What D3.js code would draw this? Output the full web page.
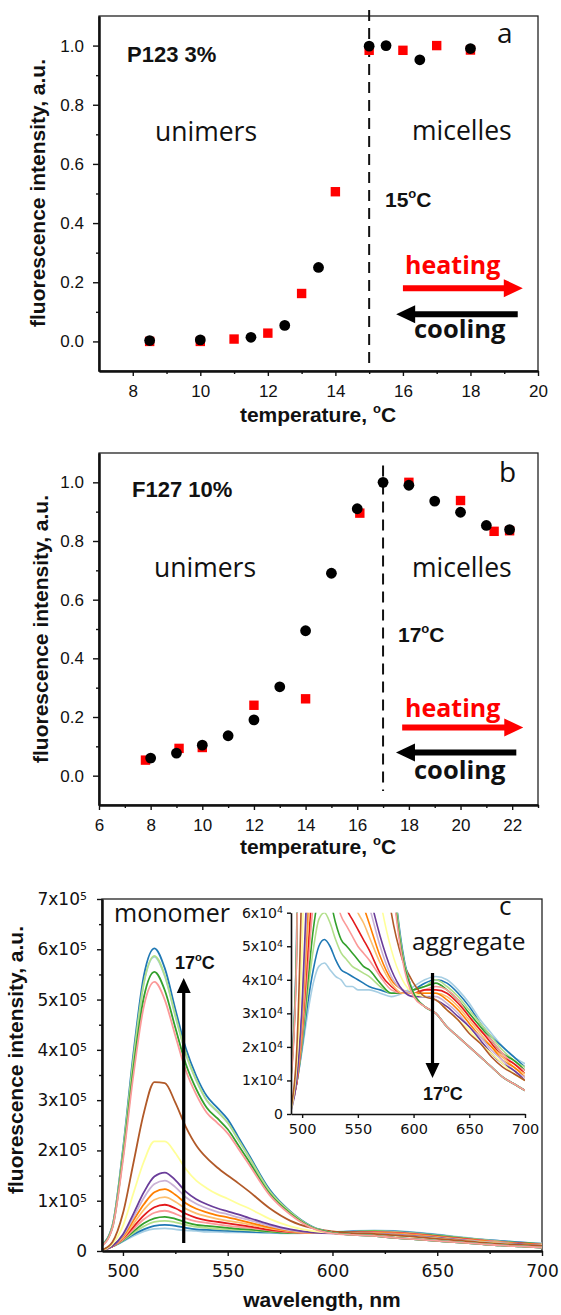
<!DOCTYPE html>
<html>
<head>
<meta charset="utf-8">
<script src="https://cdn.jsdelivr.net/npm/d3@7"></script>
<style>
  body { margin: 0; background: #fff; }
</style>
</head>
<body>
<svg id="fig" width="561" height="1315"></svg>
<script>
// ---- panel a : P123 3% ----
const tempCoolingA = [8.5, 10, 11.5, 12.5, 13.5, 15, 15.5, 16.5, 18]
const intCoolingA = [0.003, 0.005, 0.014, 0.054, 0.25, 0.998, 1.0, 0.952, 0.99]
const tempHeatingA = [8.5, 10, 11, 12, 13, 14, 15, 16, 17, 18]
const intHeatingA = [0.0, 0.0, 0.008, 0.028, 0.162, 0.506, 0.984, 0.984, 1.0, 0.985]

// ---- panel b : F127 10% ----
const tempCoolingB = [8, 9, 10, 11, 12, 13, 14, 15, 16, 17, 18, 19, 20, 21, 21.9]
const intCoolingB = [0.06, 0.077, 0.104, 0.136, 0.19, 0.303, 0.494, 0.69, 0.91, 1.0, 0.99, 0.936, 0.898, 0.853, 0.839]
const tempHeatingB = [7.8, 9.1, 10, 12, 14, 16.1, 18, 20, 21.3, 21.9]
const intHeatingB = [0.053, 0.093, 0.096, 0.24, 0.262, 0.895, 1.0, 0.938, 0.833, 0.835]

// ---- panel c : emission spectra (intensity in units of 1e4) ----
const wavelengths = [490, 495, 500, 505, 510, 515, 520, 525, 530, 535, 540, 545, 550, 555, 560,
  570, 580, 590, 600, 610, 620, 630, 640, 650, 660, 670, 680, 690, 700]
const spectra = [
  [0.3, 0.9, 1.9, 3.0, 3.9, 4.4, 4.5, 4.3, 4.1, 4.0, 3.8, 3.8, 3.7, 3.7, 3.7, 3.6, 3.5, 3.6, 3.8, 4.0, 4.1, 4.0, 3.7, 3.3, 2.8, 2.4, 2.0, 1.7, 1.5],
  [0.3, 0.9, 2.0, 3.3, 4.3, 5.0, 5.2, 5.0, 4.6, 4.3, 4.2, 4.1, 4.0, 3.9, 3.8, 3.7, 3.6, 3.6, 3.7, 3.9, 4.0, 3.9, 3.6, 3.2, 2.7, 2.3, 2.0, 1.7, 1.4],
  [0.3, 0.9, 2.1, 3.6, 4.9, 5.8, 6.0, 5.7, 5.2, 4.8, 4.6, 4.4, 4.3, 4.2, 4.1, 3.8, 3.6, 3.6, 3.7, 3.8, 4.0, 3.8, 3.5, 3.1, 2.7, 2.3, 1.9, 1.6, 1.4],
  [0.3, 0.9, 2.2, 3.9, 5.5, 6.5, 6.8, 6.4, 5.7, 5.2, 5.0, 4.8, 4.6, 4.4, 4.3, 3.9, 3.6, 3.6, 3.7, 3.8, 3.9, 3.7, 3.4, 3.0, 2.6, 2.2, 1.8, 1.6, 1.3],
  [0.2, 0.9, 2.3, 4.3, 6.3, 7.6, 8.0, 7.4, 6.5, 5.9, 5.6, 5.3, 5.0, 4.8, 4.6, 4.1, 3.7, 3.6, 3.6, 3.7, 3.8, 3.7, 3.4, 2.9, 2.5, 2.2, 1.8, 1.5, 1.3],
  [0.2, 0.9, 2.5, 4.8, 7.1, 8.7, 9.2, 8.5, 7.4, 6.6, 6.1, 5.8, 5.5, 5.2, 4.9, 4.2, 3.8, 3.6, 3.6, 3.7, 3.7, 3.6, 3.3, 2.9, 2.5, 2.1, 1.7, 1.5, 1.2],
  [0.2, 1.0, 2.6, 5.4, 8.2, 10.2, 10.7, 9.8, 8.4, 7.5, 6.9, 6.4, 6.0, 5.7, 5.3, 4.5, 3.9, 3.6, 3.6, 3.6, 3.6, 3.5, 3.2, 2.8, 2.4, 2.0, 1.7, 1.4, 1.2],
  [0.2, 1.0, 2.9, 6.1, 9.3, 11.7, 12.3, 11.2, 9.5, 8.4, 7.7, 7.1, 6.7, 6.2, 5.7, 4.7, 4.0, 3.7, 3.6, 3.6, 3.6, 3.4, 3.1, 2.7, 2.3, 2.0, 1.6, 1.4, 1.1],
  [0.2, 1.0, 3.1, 6.7, 10.6, 13.3, 14.0, 12.7, 10.7, 9.4, 8.5, 7.8, 7.3, 6.7, 6.2, 5.0, 4.1, 3.7, 3.6, 3.5, 3.5, 3.3, 3.0, 2.6, 2.3, 1.9, 1.6, 1.3, 1.1],
  [0.1, 1.0, 3.3, 7.4, 11.7, 14.8, 15.6, 14.1, 11.8, 10.3, 9.3, 8.5, 7.9, 7.3, 6.6, 5.3, 4.3, 3.7, 3.5, 3.5, 3.4, 3.2, 2.9, 2.6, 2.2, 1.8, 1.5, 1.3, 1.0],
  [0.1, 1.4, 5.0, 11.5, 17.8, 21.8, 21.8, 19.5, 16.3, 14.0, 12.5, 11.3, 10.4, 9.4, 8.5, 6.4, 4.9, 4.0, 3.6, 3.5, 3.4, 3.1, 2.8, 2.5, 2.1, 1.8, 1.5, 1.2, 1.0],
  [0.2, 1.8, 7.5, 17.5, 27.5, 33.6, 33.4, 29.5, 24.7, 21.0, 18.5, 16.6, 15.0, 13.5, 11.9, 8.5, 6.0, 4.6, 3.9, 3.5, 3.4, 3.1, 2.8, 2.4, 2.1, 1.7, 1.4, 1.2, 1.0],
  [1.1, 5.0, 19.7, 38.2, 53.3, 58.5, 54.6, 46.7, 39.2, 33.9, 29.9, 27.7, 25.5, 22.1, 18.7, 11.9, 7.7, 4.8, 3.6, 3.2, 3.0, 2.6, 2.3, 2.0, 1.7, 1.4, 1.1, 0.9, 0.7],
  [1.2, 5.1, 20.2, 39.3, 54.8, 60.2, 56.2, 48.1, 40.3, 34.8, 30.8, 28.5, 26.2, 22.7, 19.2, 12.2, 7.8, 4.9, 3.6, 3.2, 3.0, 2.6, 2.3, 2.0, 1.7, 1.4, 1.1, 0.9, 0.7],
  [1.1, 5.0, 19.7, 38.3, 53.4, 58.7, 54.8, 46.9, 39.3, 34.0, 30.0, 27.8, 25.5, 22.2, 18.8, 11.9, 7.7, 4.8, 3.6, 3.2, 3.0, 2.6, 2.3, 2.0, 1.7, 1.4, 1.1, 0.9, 0.7],
  [1.1, 4.7, 18.7, 36.3, 50.5, 55.5, 51.8, 44.4, 37.2, 32.2, 28.5, 26.4, 24.2, 21.1, 17.9, 11.4, 7.4, 4.7, 3.6, 3.2, 3.0, 2.6, 2.3, 2.0, 1.7, 1.4, 1.1, 0.9, 0.7],
  [1.0, 4.6, 18.0, 35.0, 48.7, 53.5, 49.9, 42.8, 35.9, 31.1, 27.5, 25.5, 23.4, 20.4, 17.3, 11.1, 7.2, 4.6, 3.5, 3.2, 3.0, 2.6, 2.3, 2.0, 1.7, 1.4, 1.1, 0.9, 0.7]
]

const svg = d3.select('#fig')
svg.append('rect').attr('width', 561).attr('height', 1315).attr('fill', '#fff')

const arial = '"Liberation Sans", Arial, sans-serif'
const calibri = '"Open Sans", sans-serif'
const wideSans = '"DejaVu Sans", sans-serif'
const ink = '#111'

// text with optional superscript parts, e.g. ['15', {sup: 'o'}, 'C']
function label(g, o) {
  const t = g.append('text')
    .attr('x', o.x).attr('y', o.y)
    .attr('font-family', o.family || arial)
    .attr('font-size', o.size)
    .attr('font-weight', o.weight || 'normal')
    .attr('fill', o.fill || ink)
    .attr('text-anchor', o.anchor || 'start')
  if (o.rotate) t.attr('transform', `rotate(${o.rotate},${o.x},${o.y})`)
  const parts = Array.isArray(o.text) ? o.text : [o.text]
  let raised = false
  parts.forEach((p) => {
    if (typeof p === 'string') {
      t.append('tspan').attr('dy', raised ? o.size * 0.42 : 0).text(p)
      raised = false
    } else {
      t.append('tspan').attr('dy', -o.size * 0.42).attr('font-size', o.size * 0.62).text(p.sup)
      raised = true
    }
  })
  return t
}

function styleAxis(a, family, size, lineWidth) {
  a.attr('font-family', family).attr('font-size', size).attr('fill', ink)
  a.select('.domain').attr('stroke', ink).attr('stroke-width', lineWidth)
  a.selectAll('.tick line').attr('stroke', ink).attr('stroke-width', 1.4)
  a.selectAll('.tick text').attr('fill', ink)
}

function hArrow(g, x1, x2, y, color) {
  const dir = Math.sign(x2 - x1), s = 3, hw = 9, hl = 19
  const pts = [[x1, y - s], [x2 - dir * hl, y - s], [x2 - dir * hl, y - hw], [x2, y],
    [x2 - dir * hl, y + hw], [x2 - dir * hl, y + s], [x1, y + s]]
  g.append('path').attr('d', 'M' + pts.join('L') + 'Z').attr('fill', color)
}

function vArrow(g, x, y1, y2) {
  const dir = Math.sign(y2 - y1), s = 1.6, hw = 7, hl = 15
  const pts = [[x - s, y1], [x - s, y2 - dir * hl], [x - hw, y2 - dir * hl], [x, y2],
    [x + hw, y2 - dir * hl], [x + s, y2 - dir * hl], [x + s, y1]]
  g.append('path').attr('d', 'M' + pts.join('L') + 'Z').attr('fill', '#000')
}

// ---------- temperature scatter panels ----------
function scatterPanel(p) {
  const g = svg.append('g')
  const x = d3.scaleLinear().domain(p.xDomain).range([p.left, p.right])
  const y = d3.scaleLinear().domain([-0.1, 1.1]).range([p.bottom, p.top])

  g.append('rect')
    .attr('x', p.left).attr('y', p.top)
    .attr('width', p.right - p.left).attr('height', p.bottom - p.top)
    .attr('fill', 'none').attr('stroke', '#222').attr('stroke-width', 1.3)

  const xa = g.append('g').attr('transform', `translate(0,${p.bottom})`)
    .call(d3.axisBottom(x).tickValues(p.xMajor).tickSize(5).tickSizeOuter(0).tickPadding(9).tickFormat(d3.format('d')))
  styleAxis(xa, arial, 17, 2)
  const xm = g.append('g').attr('transform', `translate(0,${p.bottom})`)
    .call(d3.axisBottom(x).tickValues(p.xMinor).tickSize(3).tickSizeOuter(0).tickFormat(''))
  styleAxis(xm, arial, 17, 2)

  const ya = g.append('g').attr('transform', `translate(${p.left},0)`)
    .call(d3.axisLeft(y).tickValues([0, 0.2, 0.4, 0.6, 0.8, 1.0]).tickSize(6).tickSizeOuter(0).tickPadding(9).tickFormat(d3.format('.1f')))
  styleAxis(ya, arial, 17, 2)
  const ym = g.append('g').attr('transform', `translate(${p.left},0)`)
    .call(d3.axisLeft(y).tickValues([0.1, 0.3, 0.5, 0.7, 0.9]).tickSize(3).tickSizeOuter(0).tickFormat(''))
  styleAxis(ym, arial, 17, 2)

  // transition temperature
  g.append('line')
    .attr('x1', x(p.transition.temp)).attr('x2', x(p.transition.temp))
    .attr('y1', y(p.transition.to)).attr('y2', y(p.transition.from))
    .attr('stroke', '#111').attr('stroke-width', 2).attr('stroke-dasharray', '11,7')

  // heating = red squares, cooling = black circles
  g.append('g').selectAll('rect').data(d3.zip(p.heatT, p.heatI)).join('rect')
    .attr('x', (d) => x(d[0]) - 4.7).attr('y', (d) => y(d[1]) - 4.7)
    .attr('width', 9.4).attr('height', 9.4).attr('fill', '#ff0000')
  g.append('g').selectAll('circle').data(d3.zip(p.coolT, p.coolI)).join('circle')
    .attr('cx', (d) => x(d[0])).attr('cy', (d) => y(d[1])).attr('r', 5.4).attr('fill', '#000')

  hArrow(g, x(p.heatArrow[0]), x(p.heatArrow[1]), y(p.heatArrow[2]), '#ff0000')
  hArrow(g, x(p.coolArrow[0]), x(p.coolArrow[1]), y(p.coolArrow[2]), '#000')

  p.labels.forEach((l) => label(g, l))
}

scatterPanel({
  left: 99, right: 538, top: 16, bottom: 371,
  xDomain: [7, 20], xMajor: d3.range(8, 21, 2), xMinor: d3.range(9, 20, 2),
  coolT: tempCoolingA, coolI: intCoolingA, heatT: tempHeatingA, heatI: intHeatingA,
  transition: { temp: 15, from: -0.078, to: 1.12 },
  heatArrow: [16.0, 19.55, 0.18], coolArrow: [19.4, 15.8, 0.092],
  labels: [
    { x: 127, y: 62, text: 'P123 3%', size: 22, weight: 'bold' },
    { x: 155, y: 141, text: 'unimers', size: 26.5, family: calibri },
    { x: 412, y: 140, text: 'micelles', size: 26.5, family: calibri },
    { x: 385, y: 207, text: ['15', { sup: 'o' }, 'C'], size: 21, weight: 'bold' },
    { x: 497, y: 43, text: 'a', size: 28, family: calibri },
    { x: 405, y: 274, text: 'heating', size: 25, weight: 'bold', family: calibri, fill: '#ff0000' },
    { x: 414, y: 338, text: 'cooling', size: 25.5, weight: 'bold', family: calibri },
    { x: 318, y: 422, text: ['temperature, ', { sup: 'o' }, 'C'], size: 21, weight: 'bold', anchor: 'middle' },
    { x: 45, y: 193, text: 'fluorescence intensity, a.u.', size: 21, weight: 'bold', anchor: 'middle', rotate: -90 }
  ]
})

scatterPanel({
  left: 99, right: 538, top: 453, bottom: 805,
  xDomain: [6, 23], xMajor: d3.range(6, 23, 2), xMinor: d3.range(7, 24, 2),
  coolT: tempCoolingB, coolI: intCoolingB, heatT: tempHeatingB, heatI: intHeatingB,
  transition: { temp: 17, from: -0.052, to: 1.057 },
  heatArrow: [17.74, 22.43, 0.164], coolArrow: [22.16, 17.5, 0.079],
  labels: [
    { x: 132, y: 497, text: 'F127 10%', size: 22, weight: 'bold' },
    { x: 154, y: 577, text: 'unimers', size: 26.5, family: calibri },
    { x: 412, y: 577, text: 'micelles', size: 26.5, family: calibri },
    { x: 398, y: 642, text: ['17', { sup: 'o' }, 'C'], size: 21, weight: 'bold' },
    { x: 499, y: 482, text: 'b', size: 28, family: calibri },
    { x: 405, y: 717, text: 'heating', size: 25, weight: 'bold', family: calibri, fill: '#ff0000' },
    { x: 414, y: 779, text: 'cooling', size: 25.5, weight: 'bold', family: calibri },
    { x: 318, y: 854, text: ['temperature, ', { sup: 'o' }, 'C'], size: 21, weight: 'bold', anchor: 'middle' },
    { x: 48, y: 629, text: 'fluorescence intensity, a.u.', size: 21, weight: 'bold', anchor: 'middle', rotate: -90 }
  ]
})

// ---------- spectra panel ----------
function sciTicks(a, exp, supSize) {
  a.selectAll('.tick text').each(function (d) {
    const t = d3.select(this).text('')
    if (d === 0) { t.text('0'); return }
    t.append('tspan').text(`${d / (exp === 5 ? 10 : 1)}x10`)
    t.append('tspan').attr('dy', '-0.45em').attr('font-size', supSize).text(exp)
  })
}

const colorOf = (i) => d3.schemePaired[i % 12]
const gc = svg.append('g')
const C = { left: 102, right: 542, top: 899, bottom: 1251 }
const xc = d3.scaleLinear().domain([490, 700]).range([C.left, C.right])
const yc = d3.scaleLinear().domain([0, 70]).range([C.bottom, C.top])

const defs = svg.append('defs')
defs.append('clipPath').attr('id', 'clipMain').append('rect')
  .attr('x', C.left).attr('y', C.top).attr('width', C.right - C.left).attr('height', C.bottom - C.top)

gc.append('rect')
  .attr('x', C.left).attr('y', C.top).attr('width', C.right - C.left).attr('height', C.bottom - C.top)
  .attr('fill', 'none').attr('stroke', '#222').attr('stroke-width', 1.3)

const lineMain = d3.line().x((d, i) => xc(wavelengths[i])).y((d) => yc(d)).curve(d3.curveMonotoneX)
gc.append('g').attr('clip-path', 'url(#clipMain)')
  .selectAll('path').data(spectra).join('path')
  .attr('d', lineMain).attr('fill', 'none')
  .attr('stroke', (d, i) => colorOf(i)).attr('stroke-width', 1.8)

const xca = gc.append('g').attr('transform', `translate(0,${C.bottom})`)
  .call(d3.axisBottom(xc).tickValues([500, 550, 600, 650, 700]).tickSize(5).tickSizeOuter(0).tickPadding(9))
styleAxis(xca, wideSans, 17, 2)
const xcm = gc.append('g').attr('transform', `translate(0,${C.bottom})`)
  .call(d3.axisBottom(xc).tickValues([525, 575, 625, 675]).tickSize(3).tickSizeOuter(0).tickFormat(''))
styleAxis(xcm, wideSans, 17, 2)
const yca = gc.append('g').attr('transform', `translate(${C.left},0)`)
  .call(d3.axisLeft(yc).tickValues(d3.range(0, 71, 10)).tickSize(5).tickSizeOuter(0).tickPadding(10))
styleAxis(yca, wideSans, 17, 2)
sciTicks(yca, 5, 11)
const ycm = gc.append('g').attr('transform', `translate(${C.left},0)`)
  .call(d3.axisLeft(yc).tickValues(d3.range(5, 70, 10)).tickSize(3).tickSizeOuter(0).tickFormat(''))
styleAxis(ycm, wideSans, 17, 2)

// inset (aggregate region)
const I = { left: 291, right: 525, top: 912.7, bottom: 1114 }
const xi = d3.scaleLinear().domain([490, 700]).range([I.left, I.right])
const yi = d3.scaleLinear().domain([0, 6]).range([I.bottom, I.top])
defs.append('clipPath').attr('id', 'clipInset').append('rect')
  .attr('x', I.left).attr('y', I.top).attr('width', I.right - I.left).attr('height', I.bottom - I.top)
const lineInset = d3.line().x((d, i) => xi(wavelengths[i])).y((d) => yi(d)).curve(d3.curveMonotoneX)
gc.append('g').attr('clip-path', 'url(#clipInset)')
  .selectAll('path').data(spectra).join('path')
  .attr('d', lineInset).attr('fill', 'none')
  .attr('stroke', (d, i) => colorOf(i)).attr('stroke-width', 1.6)

const xia = gc.append('g').attr('transform', `translate(0,${I.bottom})`)
  .call(d3.axisBottom(xi).tickValues([500, 550, 600, 650, 700]).tickSize(4).tickSizeOuter(0).tickPadding(6))
styleAxis(xia, wideSans, 14.5, 1.6)
const yia = gc.append('g').attr('transform', `translate(${I.left},0)`)
  .call(d3.axisLeft(yi).tickValues(d3.range(0, 7)).tickSize(4).tickSizeOuter(0).tickPadding(4))
styleAxis(yia, wideSans, 14, 1.6)
sciTicks(yia, 4, 9.5)

vArrow(gc, xc(529), yc(1.6), yc(54.3))
vArrow(gc, xi(617), yi(4.2), yi(1.07))

;[
  { x: 114, y: 922, text: 'monomer', size: 25, family: calibri },
  { x: 175, y: 969, text: ['17', { sup: 'o' }, 'C'], size: 18, weight: 'bold' },
  { x: 499, y: 915, text: 'c', size: 26, family: calibri },
  { x: 412, y: 950, text: 'aggregate', size: 24.5, family: calibri },
  { x: 423, y: 1100, text: ['17', { sup: 'o' }, 'C'], size: 18, weight: 'bold' },
  { x: 322, y: 1307, text: 'wavelength, nm', size: 21, weight: 'bold', anchor: 'middle' },
  { x: 23, y: 1060, text: 'fluorescence intensity, a.u.', size: 21, weight: 'bold', anchor: 'middle', rotate: -90 }
].forEach((l) => label(gc, l))
</script>
</body>
</html>
